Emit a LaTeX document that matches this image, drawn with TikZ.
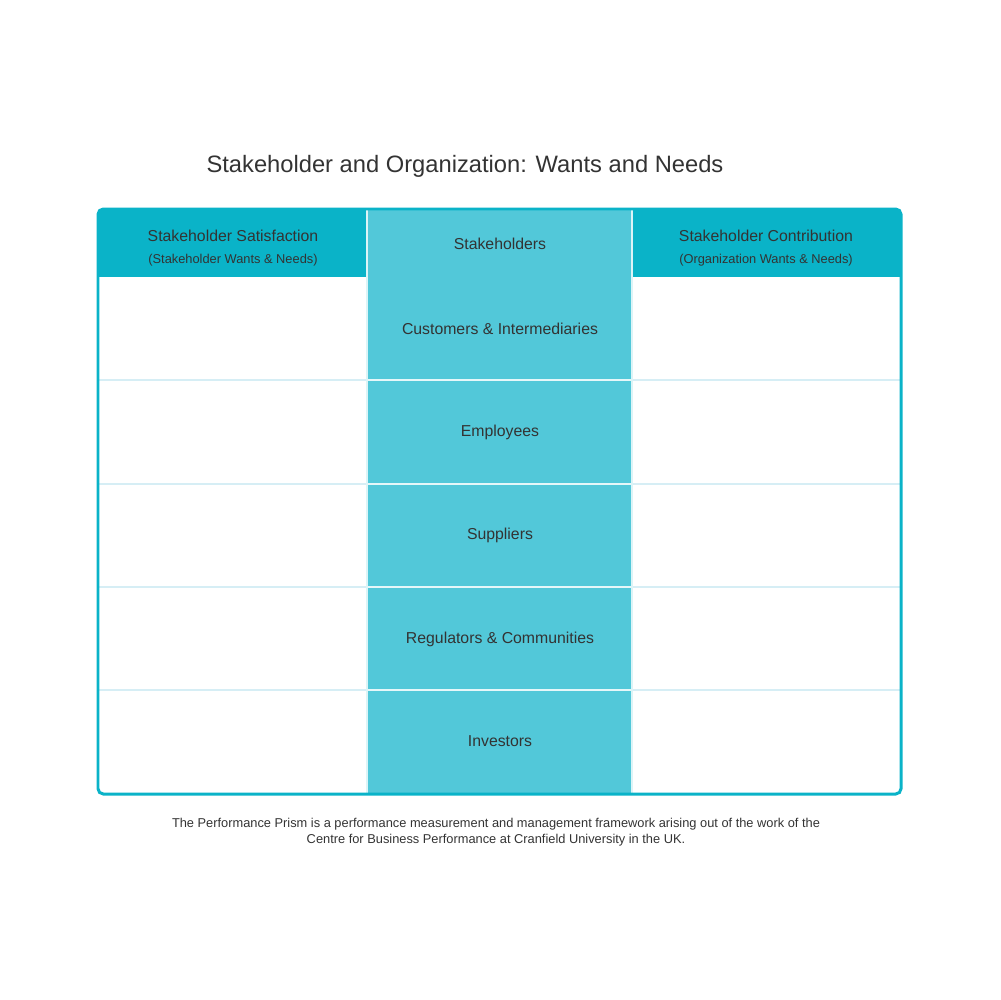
\documentclass[tikz,border=0pt]{standalone}
\usepackage{fontspec}
\setmainfont{Liberation Sans}
\usetikzlibrary{positioning}
\definecolor{tealdark}{HTML}{0AB3C8}
\definecolor{teallight}{HTML}{52C8D9}
\definecolor{rowline}{HTML}{D6EEF5}
\definecolor{txt}{HTML}{333333}
\tikzset{
  cell/.style={text=txt, font=\fontsize{9}{11}\selectfont, align=center},
  subcell/.style={text=txt, font=\fontsize{7.3}{9}\selectfont},
}
\begin{document}
\begin{tikzpicture}[x=0.02cm,y=-0.02cm]
  \useasboundingbox (0,0) rectangle (1000,1000);
  % columns
  \fill[tealdark] (98,210) rectangle (367,277);
  \fill[tealdark] (632,210) rectangle (901,277);
  \fill[teallight] (367,210) rectangle (632,794);
  % row lines
  \foreach \y in {380,484,587,690} {
    \draw[rowline, line width=0.6pt] (98,\y) -- (367,\y);
    \draw[rowline, line width=0.6pt] (632,\y) -- (901,\y);
    \draw[white!85!teallight, line width=0.6pt] (367,\y) -- (632,\y);
  }
  \draw[white!80!teallight, line width=0.6pt] (367,210) -- (367,794);
  \draw[white!80!teallight, line width=0.6pt] (632,210) -- (632,794);
  % frame
  \draw[tealdark, line width=1.7pt, rounded corners=3pt] (98,209) rectangle (901,794);
  % title
  \node[cell, font=\fontsize{13.5}{16}\selectfont] (title) at (465,166) {Stakeholder and Organization: Wants and Needs};
  % headers
  \node[cell] (sat) at (233,236) {Stakeholder Satisfaction};
  \node[subcell, below=0pt of sat] (satsub) {(Stakeholder Wants \& Needs)};
  \node[cell] (stake) at (500,244) {Stakeholders};
  \node[cell] (con) at (766,236) {Stakeholder Contribution};
  \node[subcell, below=0pt of con] (consub) {(Organization Wants \& Needs)};
  % rows
  \node[cell] (cust) at (500,329) {Customers \& Intermediaries};
  \node[cell] (emp) at (500,432) {Employees};
  \node[cell] (sup) at (500,535) {Suppliers};
  \node[cell] (reg) at (500,639) {Regulators \& Communities};
  \node[cell] (inv) at (500,741) {Investors};
  % footer
  \node[subcell, align=center] (note) at (496,832) {The Performance Prism is a performance measurement and management framework arising out of the work of the\\Centre for Business Performance at Cranfield University in the UK.};
\end{tikzpicture}
\end{document}
